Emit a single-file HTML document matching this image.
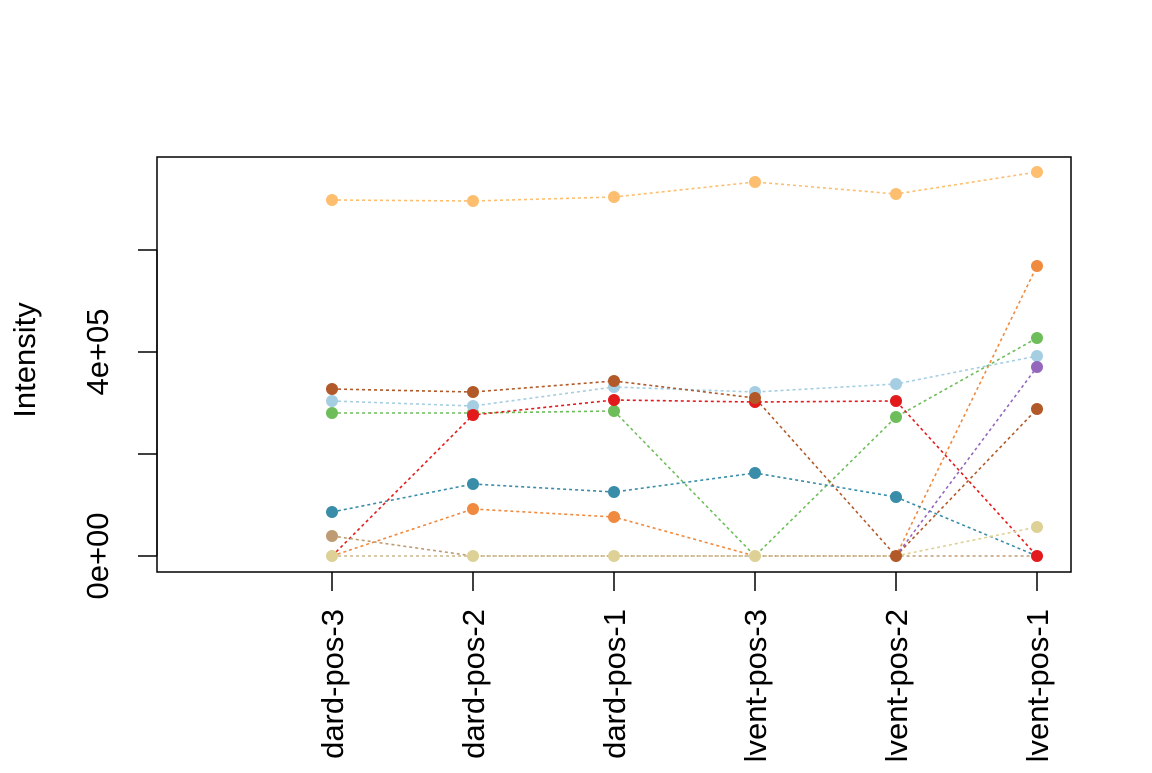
<!DOCTYPE html>
<html><head><meta charset="utf-8"><style>html,body{margin:0;padding:0;background:#fff}</style></head>
<body>
<svg width="1152" height="768" xmlns="http://www.w3.org/2000/svg" font-family="Liberation Sans, Arial, sans-serif">
<rect x="157" y="157" width="914" height="415" fill="none" stroke="#000" stroke-width="1.5"/>
<g stroke="#000" stroke-width="1.5">
<line x1="157" y1="250" x2="157" y2="556"/>
<line x1="138" y1="556" x2="157" y2="556"/>
<line x1="138" y1="454" x2="157" y2="454"/>
<line x1="138" y1="352" x2="157" y2="352"/>
<line x1="138" y1="250" x2="157" y2="250"/>
<line x1="332" y1="572" x2="332" y2="591"/>
<line x1="473" y1="572" x2="473" y2="591"/>
<line x1="614" y1="572" x2="614" y2="591"/>
<line x1="755" y1="572" x2="755" y2="591"/>
<line x1="896" y1="572" x2="896" y2="591"/>
<line x1="1037" y1="572" x2="1037" y2="591"/>
</g>
<g font-size="31" fill="#000" text-anchor="middle">
<text transform="translate(108,556) rotate(-90)">0e+00</text>
<text transform="translate(108,352) rotate(-90)">4e+05</text>
<text transform="translate(35,360) rotate(-90)">Intensity</text>
</g>
<g font-size="31" fill="#000" text-anchor="end">
<text transform="translate(343,609) rotate(-90)">dard-pos-3</text>
<text transform="translate(484,609) rotate(-90)">dard-pos-2</text>
<text transform="translate(625,609) rotate(-90)">dard-pos-1</text>
<text transform="translate(766,609) rotate(-90)">lvent-pos-3</text>
<text transform="translate(907,609) rotate(-90)">lvent-pos-2</text>
<text transform="translate(1048,609) rotate(-90)">lvent-pos-1</text>
</g>
<g fill="none" stroke-width="1.6" stroke-dasharray="3,3">
<polyline stroke="#FDBF6F" points="332,200 473,201 614,197 755,182 896,194 1037,172"/>
<polyline stroke="#F08A3E" points="332,556 473,509 614,517 755,556 896,556 1037,266"/>
<polyline stroke="#6DBE5A" points="332,413 473,413 614,411 755,556 896,417 1037,338"/>
<polyline stroke="#A6CEE3" points="332,401 473,406 614,387 755,392 896,384 1037,356"/>
<polyline stroke="#B15928" points="332,389 473,392 614,381 755,398 896,556 1037,409"/>
<polyline stroke="#E31A1C" points="332,556 473,415 614,400 755,402 896,401 1037,556"/>
<polyline stroke="#3A8DA8" points="332,512 473,484 614,492 755,473 896,497 1037,556"/>
<polyline stroke="#BF9B74" points="332,536 473,556 614,556 755,556 896,556 1037,556"/>
<polyline stroke="#9467BD" points="332,556 473,556 614,556 755,556 896,556 1037,367"/>
<polyline stroke="#DDD196" points="332,556 473,556 614,556 755,556 896,556 1037,527"/>
</g>
<g>
<g fill="#FDBF6F"><circle cx="332" cy="200" r="6"/><circle cx="473" cy="201" r="6"/><circle cx="614" cy="197" r="6"/><circle cx="755" cy="182" r="6"/><circle cx="896" cy="194" r="6"/><circle cx="1037" cy="172" r="6"/></g>
<g fill="#F08A3E"><circle cx="473" cy="509" r="6"/><circle cx="614" cy="517" r="6"/><circle cx="1037" cy="266" r="6"/></g>
<g fill="#6DBE5A"><circle cx="332" cy="413" r="6"/><circle cx="473" cy="413" r="6"/><circle cx="614" cy="411" r="6"/><circle cx="896" cy="417" r="6"/><circle cx="1037" cy="338" r="6"/></g>
<g fill="#A6CEE3"><circle cx="332" cy="401" r="6"/><circle cx="473" cy="406" r="6"/><circle cx="614" cy="387" r="6"/><circle cx="755" cy="392" r="6"/><circle cx="896" cy="384" r="6"/><circle cx="1037" cy="356" r="6"/></g>
<g fill="#E31A1C"><circle cx="473" cy="415" r="6"/><circle cx="614" cy="400" r="6"/><circle cx="755" cy="402" r="6"/><circle cx="896" cy="401" r="6"/><circle cx="1037" cy="556" r="6"/></g>
<g fill="#B15928"><circle cx="332" cy="389" r="6"/><circle cx="473" cy="392" r="6"/><circle cx="614" cy="381" r="6"/><circle cx="755" cy="398" r="6"/><circle cx="896" cy="556" r="6"/><circle cx="1037" cy="409" r="6"/></g>
<g fill="#3A8DA8"><circle cx="332" cy="512" r="6"/><circle cx="473" cy="484" r="6"/><circle cx="614" cy="492" r="6"/><circle cx="755" cy="473" r="6"/><circle cx="896" cy="497" r="6"/></g>
<g fill="#BF9B74"><circle cx="332" cy="536" r="6"/></g>
<g fill="#9467BD"><circle cx="1037" cy="367" r="6"/></g>
<g fill="#DDD196"><circle cx="332" cy="556" r="6"/><circle cx="473" cy="556" r="6"/><circle cx="614" cy="556" r="6"/><circle cx="755" cy="556" r="6"/><circle cx="1037" cy="527" r="6"/></g>
</g>
</svg>
</body></html>
